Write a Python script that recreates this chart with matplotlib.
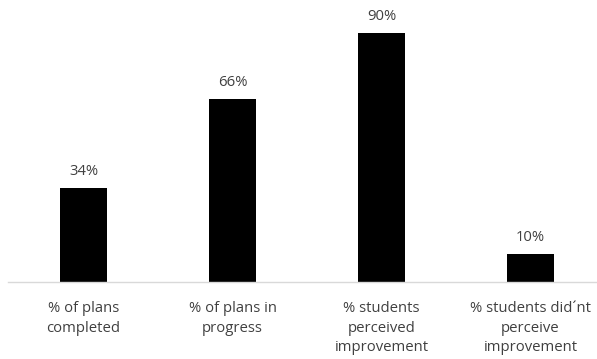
import matplotlib
matplotlib.use("Agg")
import matplotlib.pyplot as plt

categories = ["% of plans\ncompleted", "% of plans in\nprogress",
              "% students\nperceived\nimprovement",
              "% students did\u00b4nt\nperceive\nimprovement"]
values = [34, 66, 90, 10]
value_labels = ["34%", "66%", "90%", "10%"]

plt.rcParams['font.family'] = ['Open Sans', 'DejaVu Sans']

fig = plt.figure(figsize=(5.97, 3.59), dpi=100)
ax = fig.add_axes([8 / 597, 77 / 359, 589 / 597, 282 / 359])

x = list(range(len(values)))
bars = ax.bar(x, values, width=0.31, color='black', zorder=2)
for b, v, lab in zip(bars, values, value_labels):
    ax.text(b.get_x() + b.get_width() / 2, v + 3.2, lab, ha='center', va='bottom',
            fontsize=10.7, color='#404040')

ax.set_xlim(-0.507, 3.446)
ax.set_ylim(0, 101.9)
ax.set_xticks(x)
ax.set_xticklabels(categories, fontsize=10.7, color='#404040', linespacing=1.4)
ax.tick_params(axis='x', length=0, pad=14)
ax.set_yticks([])
for s in ['top', 'right', 'left']:
    ax.spines[s].set_visible(False)
ax.spines['bottom'].set_color('#d9d9d9')
ax.spines['bottom'].set_linewidth(1)

fig.savefig("out.png", dpi=100)
